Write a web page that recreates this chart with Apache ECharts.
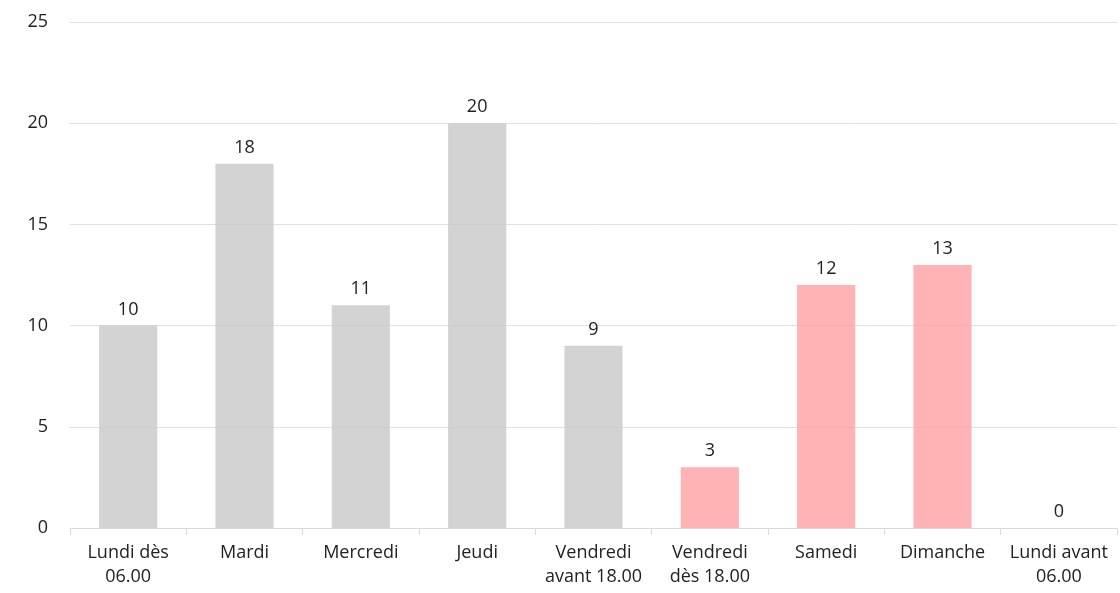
<!DOCTYPE html>
<html><head><meta charset="utf-8">
<script src="https://cdn.jsdelivr.net/npm/echarts@6/dist/echarts.min.js"></script>
<style>html,body{margin:0;padding:0;background:#fff}#c{width:1120px;height:593px}</style>
</head><body><div id="c"></div>
<script>
const categories = ['Lundi dès\n06.00','Mardi','Mercredi','Jeudi','Vendredi\navant 18.00','Vendredi\ndès 18.00','Samedi','Dimanche','Lundi avant\n06.00'];
const values = [10,18,11,20,9,3,12,13,0];
const highlighted = [false,false,false,false,false,true,true,true,true];
const yTicks = [0,5,10,15,20,25];
const GRAY = 'rgba(200,200,200,0.8)';
const PINK = 'rgba(255,160,162,0.8)';
const chart = echarts.init(document.getElementById('c'));
chart.setOption({
  animation:false,
  textStyle:{fontFamily:'Open Sans'},
  grid:{left:70,right:3,top:22,bottom:65},
  xAxis:{type:'category',data:categories,
    axisLine:{lineStyle:{color:'#d9d9d9',width:1}},
    axisTick:{show:true,length:7,lineStyle:{color:'#d9d9d9'}},
    axisLabel:{color:'#222',fontSize:18,lineHeight:24,margin:13,interval:0}},
  yAxis:{type:'value',min:yTicks[0],max:yTicks[yTicks.length-1],interval:5,
    axisLine:{show:false},axisTick:{show:false},
    splitLine:{lineStyle:{color:'#e0e0e0',width:1}},
    axisLabel:{color:'#222',fontSize:18,margin:22}},
  series:[{type:'bar',barWidth:'50%',
    data:values.map((v,i)=>({value:v,itemStyle:{color:highlighted[i]?PINK:GRAY}})),
    label:{show:true,position:'top',color:'#222',fontSize:18,distance:7}}]
});
</script></body></html>
